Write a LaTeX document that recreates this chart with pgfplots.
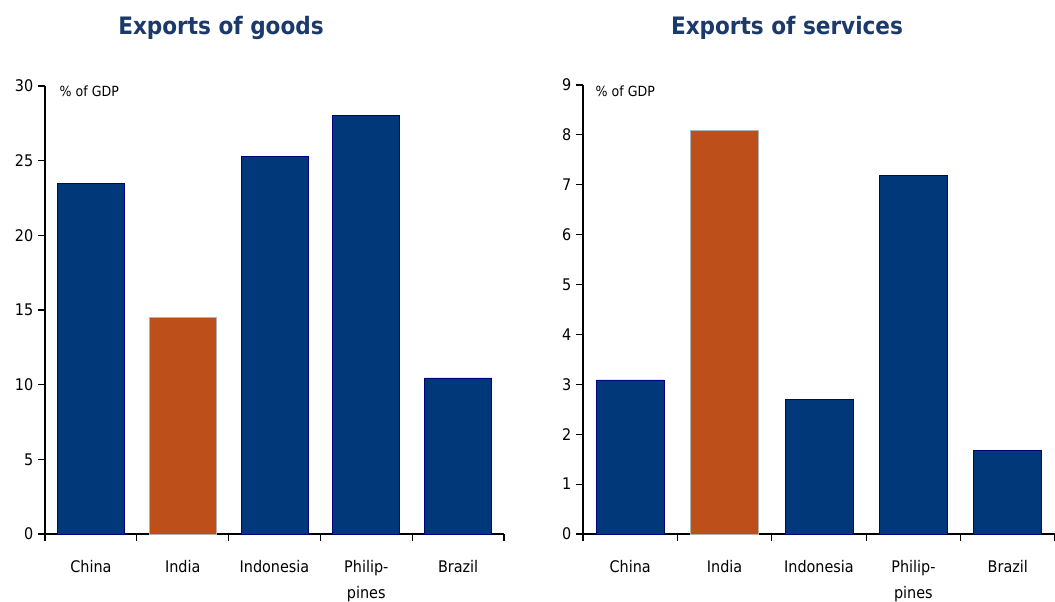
\documentclass[border=0pt]{standalone}
\usepackage{fontspec}
\setmainfont{DejaVu Sans Condensed}
\usepackage{pgfplots}
\pgfplotsset{compat=1.18}
\definecolor{navy}{RGB}{0,56,122}
\definecolor{navyedge}{RGB}{0,0,128}
\definecolor{rust}{RGB}{189,80,26}
\definecolor{titleblue}{RGB}{27,58,107}
\pgfplotsset{
  panel/.style={
    scale only axis,
    axis x line=bottom, axis y line=left,
    axis line style={-, black, line width=0.8pt},
    every tick/.style={black, line width=0.8pt},
    tick align=outside,
    major tick length=5.25pt,
    xmin=0.5, xmax=5.5, ymin=0,
    xtick={0.5,1.5,2.5,3.5,4.5,5.5},
    xticklabels={},
    extra x ticks={1,2,3,4,5},
    extra x tick labels={China,India,Indonesia,{Philip-\\pines},Brazil},
    extra x tick style={major tick length=0pt, xticklabel style={yshift=-16.5pt}},
    xticklabel style={align=center, font=\fontsize{12}{19.5}\selectfont, anchor=north},
    yticklabel style={font=\fontsize{12}{14}\selectfont},
    /pgf/number format/assume math mode=true,
    ybar, bar shift=0pt,
    clip=false,
  }
}
\begin{document}
\begin{tikzpicture}[x=0.75pt,y=0.75pt]
\path[use as bounding box] (0,0) rectangle (1055,602);
\begin{axis}[panel, at={(33.75pt,51pt)}, anchor=south west,
  width=344.25pt, height=336pt,
  ymax=30, ytick={0,5,...,30}, bar width=50.25pt]
\addplot[fill=navy, draw=navyedge, line width=0.5pt] coordinates {(1,23.5) (3,25.3) (4,28.05) (5,10.45)};
\addplot[fill=rust, draw=gray!60, line width=0.5pt] coordinates {(2,14.5)};
\end{axis}
\node[anchor=west, font=\fontsize{10.5}{12}\selectfont] at (55,511) {\% of GDP};
\node[font=\bfseries\fontsize{18}{20}\selectfont, text=titleblue] at (221,574) {Exports of goods};
\begin{axis}[panel, at={(437.25pt,51pt)}, anchor=south west,
  width=354pt, height=336.75pt,
  ymax=9, ytick={0,1,...,9}, bar width=51pt]
\addplot[fill=navy, draw=navyedge, line width=0.5pt] coordinates {(1,3.09) (3,2.69) (4,7.19) (5,1.68)};
\addplot[fill=rust, draw=gray!60, line width=0.5pt] coordinates {(2,8.1)};
\end{axis}
\node[anchor=west, font=\fontsize{10.5}{12}\selectfont] at (591,511) {\% of GDP};
\node[font=\bfseries\fontsize{18}{20}\selectfont, text=titleblue] at (787,574) {Exports of services};
\end{tikzpicture}
\end{document}
